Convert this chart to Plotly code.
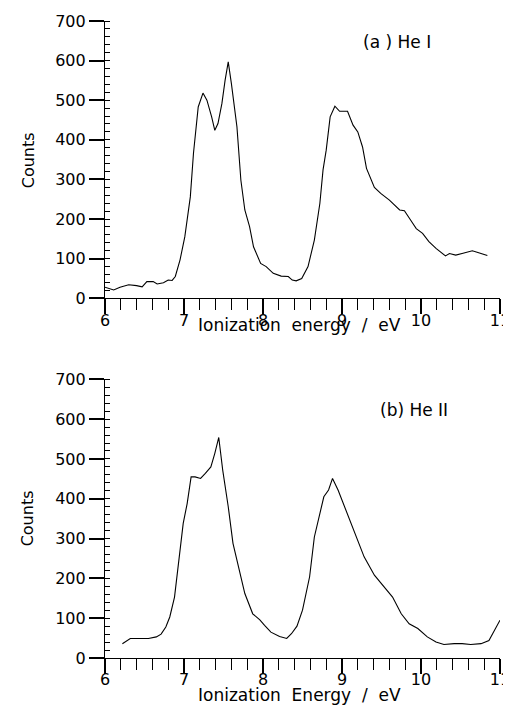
import plotly.graph_objects as go

# (a) He I
energy_a = [6.00, 6.11, 6.19, 6.30, 6.40, 6.47, 6.53, 6.61, 6.66, 6.74, 6.80, 6.85, 6.89, 6.95,
            7.01, 7.08, 7.12, 7.18, 7.24, 7.29, 7.35, 7.39, 7.43, 7.48, 7.52, 7.56, 7.60, 7.67,
            7.72, 7.77, 7.83, 7.88, 7.97, 8.04, 8.13, 8.23, 8.32, 8.37, 8.42, 8.49, 8.57, 8.65,
            8.72, 8.76, 8.80, 8.85, 8.91, 8.97, 9.07, 9.14, 9.20, 9.26, 9.31, 9.37, 9.41, 9.49,
            9.60, 9.73, 9.79, 9.87, 9.94, 10.02, 10.10, 10.19, 10.31, 10.36, 10.44, 10.52, 10.65,
            10.73, 10.84]
counts_a = [28, 21, 28, 34, 32, 29, 42, 42, 36, 39, 46, 45, 55, 97,
            155, 256, 366, 483, 518, 500, 458, 424, 441, 492, 550, 597, 542, 433,
            298, 223, 181, 130, 88, 80, 63, 56, 55, 46, 44, 50, 80, 147,
            240, 324, 374, 458, 485, 472, 472, 437, 420, 382, 328, 298, 280, 265,
            248, 223, 221, 197, 176, 164, 143, 126, 107, 113, 109, 113, 120,
            115, 108]

# (b) He II
energy_b = [6.22, 6.32, 6.42, 6.55, 6.65, 6.71, 6.77, 6.82, 6.88, 6.93, 6.99, 7.04, 7.09, 7.14,
            7.21, 7.27, 7.34, 7.39, 7.44, 7.49, 7.56, 7.62, 7.68, 7.77, 7.87, 7.96, 8.02, 8.10,
            8.21, 8.30, 8.36, 8.43, 8.50, 8.59, 8.65, 8.71, 8.77, 8.83, 8.88, 8.95, 9.03, 9.16,
            9.28, 9.41, 9.51, 9.64, 9.75, 9.85, 9.96, 10.08, 10.19, 10.29, 10.42, 10.52, 10.63,
            10.76, 10.86, 10.92, 11.00]
counts_b = [36, 49, 49, 49, 53, 60, 78, 103, 153, 237, 338, 388, 455, 455,
            451, 464, 480, 514, 554, 472, 380, 288, 237, 162, 111, 96, 82, 65,
            54, 49, 61, 80, 120, 204, 304, 355, 405, 422, 451, 422, 380, 313,
            254, 208, 183, 153, 111, 86, 74, 53, 40, 34, 36, 36, 34,
            36, 44, 65, 95]

x_ticks = [6, 7, 8, 9, 10, 11]
y_ticks = [0, 100, 200, 300, 400, 500, 600, 700]

FONT = "DejaVu Sans"
fig = go.Figure()
fig.add_trace(go.Scatter(x=energy_a, y=counts_a, mode="lines",
                         line=dict(color="black", width=1.1), xaxis="x", yaxis="y",
                         showlegend=False))
fig.add_trace(go.Scatter(x=energy_b, y=counts_b, mode="lines",
                         line=dict(color="black", width=1.1), xaxis="x2", yaxis="y2",
                         showlegend=False))

tf = dict(family=FONT, size=16, color="black")


def xax(anchor):
    return dict(range=[6, 11], tickmode="array", tickvals=x_ticks,
                ticktext=[str(v) for v in x_ticks],
                showline=True, linecolor="black", linewidth=1.2, ticks="outside",
                ticklen=15, tickcolor="black", tickwidth=1.5, showgrid=False, zeroline=False,
                tickfont=tf, anchor=anchor, domain=[0, 1], automargin=False,
                ticklabeloverflow="allow", ticklabelstandoff=-8,
                minor=dict(ticks="outside", ticklen=11, dtick=0.2, tick0=6,
                           tickcolor="black", tickwidth=1.2, showgrid=False))


def yax(anchor, domain):
    return dict(range=[0, 700], tickmode="array", tickvals=y_ticks,
                ticktext=[str(v) for v in y_ticks],
                showline=True, linecolor="black", linewidth=1.2, ticks="outside",
                ticklen=15, tickcolor="black", tickwidth=1.5, showgrid=False, zeroline=False,
                tickfont=tf, anchor=anchor, domain=domain, automargin=False,
                ticklabeloverflow="allow",
                minor=dict(ticks="inside", ticklen=5, dtick=20, tick0=0,
                           tickcolor="black", tickwidth=1.2, showgrid=False))


fig.update_layout(
    width=503, height=699,
    margin=dict(l=97, r=11, t=13, b=49),
    paper_bgcolor="white", plot_bgcolor="white",
    xaxis=xax("y"), yaxis=yax("x", [0.5647, 1.0]),
    xaxis2=xax("y2"), yaxis2=yax("x2", [0.0, 0.4375]),
    font=dict(family=FONT, color="black"),
)

ann_font = dict(family=FONT, size=17, color="black")
fig.add_annotation(text="Ionization\u00a0 energy\u00a0 /\u00a0 eV", x=0.492, y=0.522,
                   xref="paper", yref="paper", showarrow=False, font=ann_font,
                   xanchor="center", yanchor="middle")
fig.add_annotation(text="Ionization\u00a0 Energy\u00a0 /\u00a0 eV", x=0.492, y=-0.0574,
                   xref="paper", yref="paper", showarrow=False, font=ann_font,
                   xanchor="center", yanchor="middle")
fig.add_annotation(text="Counts", x=-0.194, y=0.782, xref="paper", yref="paper",
                   showarrow=False, textangle=-90, font=dict(family=FONT, size=16, color="black"),
                   xanchor="center", yanchor="middle")
fig.add_annotation(text="Counts", x=-0.194, y=0.2198, xref="paper", yref="paper",
                   showarrow=False, textangle=-90, font=dict(family=FONT, size=16, color="black"),
                   xanchor="center", yanchor="middle")
fig.add_annotation(text="(a ) He I", x=0.739, y=0.967, xref="paper", yref="paper",
                   showarrow=False, font=ann_font, xanchor="center", yanchor="middle")
fig.add_annotation(text="(b) He II", x=0.782, y=0.389, xref="paper", yref="paper",
                   showarrow=False, font=ann_font, xanchor="center", yanchor="middle")

fig.write_html("out.html")
